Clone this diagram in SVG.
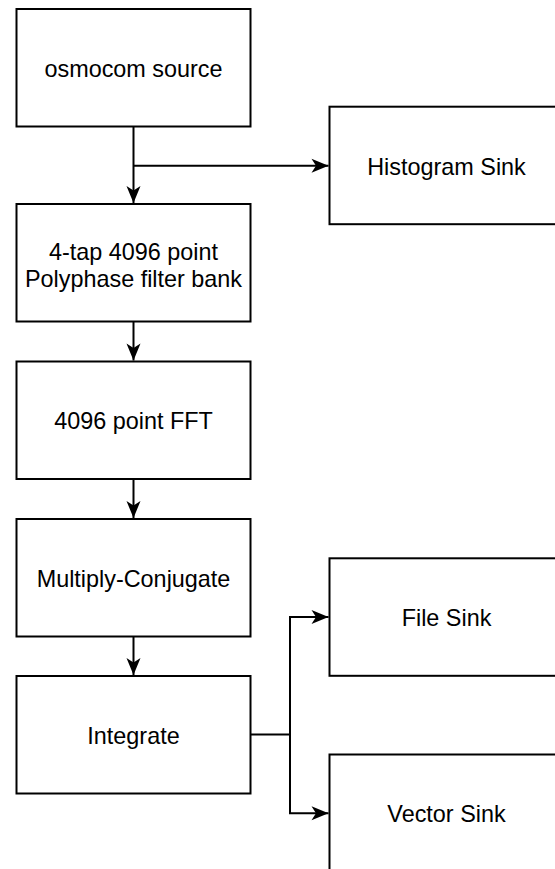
<svg xmlns="http://www.w3.org/2000/svg" width="555" height="869" viewBox="0 0 555 869">
<style>
  .box { fill: #ffffff; stroke: #000000; stroke-width: 2; }
  .lbl { font-family: "Liberation Sans", Arial, Helvetica, sans-serif; font-size: 23.4px; fill: #000000; text-anchor: middle; }
  .edge { fill: none; stroke: #000000; stroke-width: 2; }
</style>
<defs>
  <marker id="arrow" viewBox="-18 -8 19 16" refX="0" refY="0" markerWidth="19" markerHeight="16" markerUnits="userSpaceOnUse" orient="auto">
    <path d="M0,0 L-17,-7 L-12.5,0 L-17,7 Z" fill="#000000"/>
  </marker>
</defs>
<rect x="0" y="0" width="555" height="869" fill="#ffffff"/>
<g id="connectors">
  <path class="edge" d="M133.5,126.5 L133.5,203" marker-end="url(#arrow)"/>
  <path class="edge" d="M133.5,165.7 L328.5,165.7" marker-end="url(#arrow)"/>
  <path class="edge" d="M133.5,321.5 L133.5,360.5" marker-end="url(#arrow)"/>
  <path class="edge" d="M133.5,479 L133.5,518" marker-end="url(#arrow)"/>
  <path class="edge" d="M133.5,636.5 L133.5,675" marker-end="url(#arrow)"/>
  <path class="edge" d="M250.5,734.5 L290,734.5 L290,617 L328.5,617" marker-end="url(#arrow)"/>
  <path class="edge" d="M290,734.5 L290,813.3 L328.5,813.3" marker-end="url(#arrow)"/>
</g>
<g id="osmocom-source">
  <rect class="box" x="16.5" y="9" width="234" height="117.5"/>
  <text class="lbl" x="133.5" y="76.8">osmocom source</text>
</g>
<g id="polyphase-filter-bank">
  <rect class="box" x="16.5" y="204" width="234" height="117.5"/>
  <text class="lbl" x="133.5" y="259.5">4-tap 4096 point</text>
  <text class="lbl" x="133.5" y="286.5">Polyphase filter bank</text>
</g>
<g id="fft">
  <rect class="box" x="16.5" y="361.5" width="234" height="117.5"/>
  <text class="lbl" x="133.5" y="429.2">4096 point FFT</text>
</g>
<g id="multiply-conjugate">
  <rect class="box" x="16.5" y="519" width="234" height="117.5"/>
  <text class="lbl" x="133.5" y="586.8">Multiply-Conjugate</text>
</g>
<g id="integrate">
  <rect class="box" x="16.5" y="676" width="234" height="117.5"/>
  <text class="lbl" x="133.5" y="743.8">Integrate</text>
</g>
<g id="histogram-sink">
  <rect class="box" x="329.5" y="106.7" width="234" height="117.5"/>
  <text class="lbl" x="446.5" y="174.5">Histogram Sink</text>
</g>
<g id="file-sink">
  <rect class="box" x="329.5" y="558.3" width="234" height="117.5"/>
  <text class="lbl" x="446.5" y="626.2">File Sink</text>
</g>
<g id="vector-sink">
  <rect class="box" x="329.5" y="754.5" width="234" height="117.5"/>
  <text class="lbl" x="446.5" y="822.3">Vector Sink</text>
</g>
</svg>
